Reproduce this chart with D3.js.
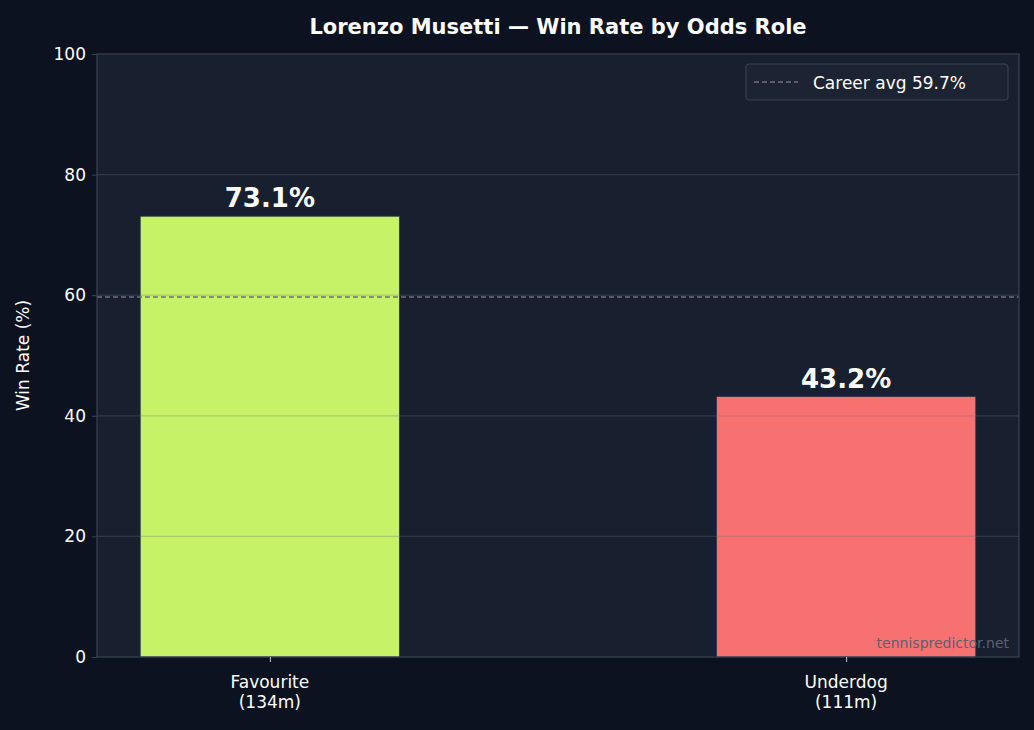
<!DOCTYPE html>
<meta charset="utf-8">
<style>
body { margin: 0; background: #0d1220; }
text { font-family: "DejaVu Sans", sans-serif; }
</style>
<body>
<script src="https://cdn.jsdelivr.net/npm/d3@7"></script>
<script>
var categories = ['Favourite\n(134m)', 'Underdog\n(111m)']
var winRates = [73.1, 43.2]
var barColors = ['#c5f266', '#f87171']
var careerAvg = 59.7
var yTicks = [0, 20, 40, 60, 80, 100]

var W = 1034, H = 730
var m = { left: 97, right: 1019, top: 54, bottom: 657 }

var svg = d3.select('body').append('svg').attr('width', W).attr('height', H)
svg.append('rect').attr('width', W).attr('height', H).attr('fill', '#0d1220')
svg.append('rect').attr('x', m.left).attr('y', m.top)
    .attr('width', m.right - m.left).attr('height', m.bottom - m.top).attr('fill', '#181f2f')

var x = d3.scaleLinear().domain([-0.3, 1.3]).range([m.left, m.right])
var y = d3.scaleLinear().domain([0, 100]).range([m.bottom, m.top])
var bw = 0.45

svg.selectAll('.bar').data(winRates).enter().append('rect')
    .attr('x', function (d, i) { return x(i - bw / 2) })
    .attr('width', x(bw) - x(0))
    .attr('y', function (d) { return y(d) })
    .attr('height', function (d) { return y(0) - y(d) })
    .attr('fill', function (d, i) { return barColors[i] })
    .attr('stroke', '#2a3345').attr('stroke-width', 0.8)

// grid over bars
svg.selectAll('.grid').data(yTicks.slice(1, -1)).enter().append('line')
    .attr('x1', m.left).attr('x2', m.right)
    .attr('y1', function (d) { return y(d) }).attr('y2', function (d) { return y(d) })
    .attr('stroke', '#6b7280').attr('stroke-opacity', 0.3).attr('stroke-width', 1.2)

svg.append('line').attr('x1', m.left).attr('x2', m.right)
    .attr('y1', y(careerAvg)).attr('y2', y(careerAvg))
    .attr('stroke', '#6b7280').attr('stroke-width', 1.5).attr('stroke-dasharray', '5,3')

svg.selectAll('.lbl').data(winRates).enter().append('text')
    .attr('x', function (d, i) { return x(i) })
    .attr('y', function (d) { return y(d) - 9 })
    .attr('text-anchor', 'middle').attr('fill', '#fff')
    .attr('font-size', 26).attr('font-weight', 'bold')
    .text(function (d) { return d.toFixed(1) + '%' })

svg.append('rect').attr('x', m.left).attr('y', m.top)
    .attr('width', m.right - m.left).attr('height', m.bottom - m.top)
    .attr('fill', 'none').attr('stroke', '#3a4354').attr('stroke-width', 1.2)

var ya = svg.append('g').attr('transform', 'translate(' + m.left + ',0)')
    .call(d3.axisLeft(y).tickValues(yTicks).tickSize(5).tickPadding(6))
ya.select('.domain').remove()
ya.selectAll('line').attr('stroke', '#3a4354')
ya.selectAll('text').attr('fill', '#fff').attr('font-size', 17)

var xa = svg.append('g').attr('transform', 'translate(0,' + m.bottom + ')')
    .call(d3.axisBottom(x).tickValues([0, 1]).tickSize(5).tickFormat(''))
xa.select('.domain').remove()
xa.selectAll('line').attr('stroke', '#c0c4cc')
categories.forEach(function (c, i) {
    var t = svg.append('text').attr('x', x(i)).attr('y', m.bottom + 31)
        .attr('text-anchor', 'middle').attr('fill', '#fff').attr('font-size', 17)
    c.split('\n').forEach(function (s, k) {
        t.append('tspan').attr('x', x(i)).attr('dy', k ? 20 : 0).text(s)
    })
})

svg.append('text').attr('transform', 'translate(29,' + ((m.top + m.bottom) / 2) + ') rotate(-90)')
    .attr('text-anchor', 'middle').attr('fill', '#fff').attr('font-size', 17).text('Win Rate (%)')

svg.append('text').attr('x', (m.left + m.right) / 2 + 0).attr('y', 34)
    .attr('text-anchor', 'middle').attr('fill', '#fff').attr('font-size', 21).attr('font-weight', 'bold')
    .text('Lorenzo Musetti — Win Rate by Odds Role')

var lg = svg.append('g')
lg.append('rect').attr('x', 746).attr('y', 64).attr('width', 262).attr('height', 36).attr('rx', 3)
    .attr('fill', '#1c2333').attr('stroke', '#3a4354')
lg.append('line').attr('x1', 754).attr('x2', 798).attr('y1', 82).attr('y2', 82)
    .attr('stroke', '#6b7280').attr('stroke-width', 1.5).attr('stroke-dasharray', '5,3')
lg.append('text').attr('x', 813).attr('y', 89).attr('fill', '#fff').attr('font-size', 17)
    .text('Career avg ' + careerAvg + '%')

svg.append('text').attr('x', 1009).attr('y', 648).attr('text-anchor', 'end')
    .attr('fill', '#5a6272').attr('font-size', 14).text('tennispredictor.net')
</script>
</body>
